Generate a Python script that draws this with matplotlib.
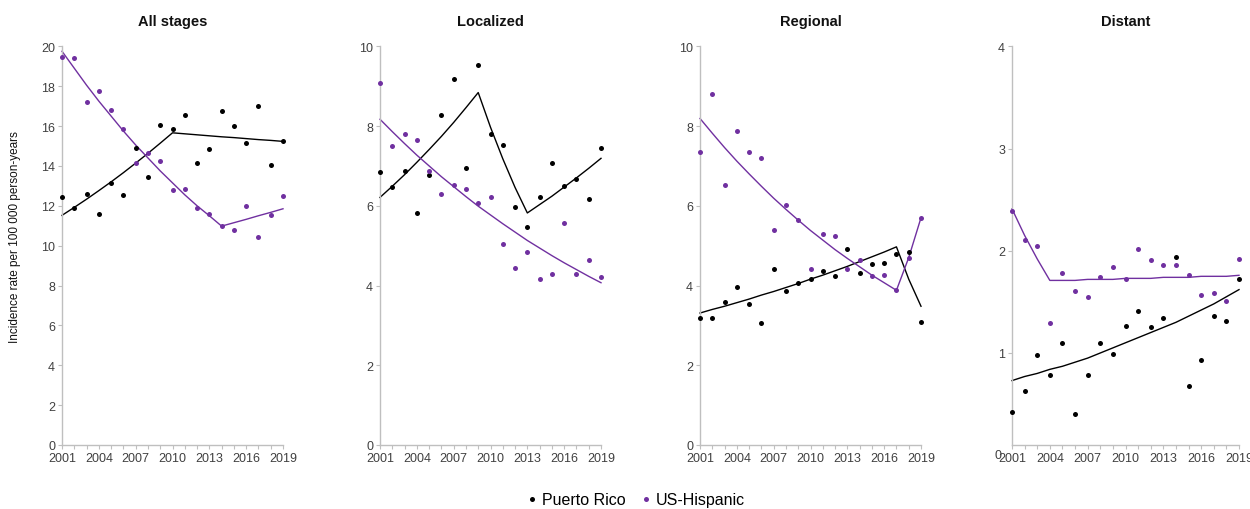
import matplotlib
matplotlib.use("Agg")
import matplotlib.pyplot as plt
from matplotlib.lines import Line2D

plt.rcParams["font.family"] = ["Liberation Sans", "DejaVu Sans"]

years = list(range(2001, 2020))

# All stages
all_pr = [12.44, 11.90, 12.57, 11.60, 13.14, 12.55, 14.91, 13.44, 16.04, 15.83,
          16.53, 14.17, 14.87, 16.73, 15.98, 15.14, 17.03, 14.07, 15.26]
all_hisp = [19.45, 19.42, 17.23, 17.76, 16.78, 15.84, 14.16, 14.66, 14.24, 12.80,
            12.82, 11.87, 11.57, 11.00, 10.78, 11.99, 10.45, 11.55, 12.50]
all_pr_fit = [11.52, 11.92, 12.33, 12.76, 13.20, 13.66, 14.14, 14.63, 15.14, 15.66,
              15.61, 15.56, 15.51, 15.46, 15.42, 15.37, 15.32, 15.28, 15.23]
all_hisp_fit = [19.75, 18.90, 18.05, 17.25, 16.50, 15.75, 15.05, 14.40, 13.75, 13.15,
                12.55, 12.00, 11.50, 10.98, 11.15, 11.32, 11.50, 11.67, 11.85]

# Localized
loc_pr = [6.84, 6.46, 6.87, 5.82, 6.78, 8.28, 9.19, 6.96, 9.53, 7.79,
          7.53, 5.96, 5.48, 6.21, 7.07, 6.50, 6.67, 6.18, 7.45]
loc_hisp = [9.09, 7.49, 7.79, 7.64, 6.87, 6.29, 6.52, 6.41, 6.07, 6.22,
            5.03, 4.44, 4.85, 4.17, 4.29, 5.58, 4.30, 4.63, 4.21]
loc_pr_fit = [6.21, 6.49, 6.78, 7.09, 7.41, 7.74, 8.09, 8.46, 8.84, 7.97,
              7.18, 6.46, 5.82, 6.03, 6.24, 6.47, 6.70, 6.94, 7.19]
loc_hisp_fit = [8.17, 7.86, 7.56, 7.27, 7.00, 6.73, 6.48, 6.23, 5.99, 5.77,
                5.55, 5.34, 5.13, 4.94, 4.75, 4.57, 4.40, 4.23, 4.07]

# Regional
reg_pr = [3.18, 3.18, 3.59, 3.96, 3.54, 3.06, 4.42, 3.87, 4.07, 4.17,
          4.36, 4.25, 4.92, 4.31, 4.54, 4.56, 4.79, 4.83, 3.09]
reg_hisp = [7.36, 8.80, 6.52, 7.88, 7.36, 7.20, 5.38, 6.03, 5.64, 4.41,
            5.28, 5.24, 4.41, 4.65, 4.23, 4.26, 3.88, 4.69, 5.70]
reg_pr_fit = [3.31, 3.40, 3.48, 3.57, 3.66, 3.76, 3.85, 3.95, 4.05, 4.16,
              4.26, 4.37, 4.48, 4.60, 4.72, 4.84, 4.97, 4.16, 3.48]
reg_hisp_fit = [8.19, 7.82, 7.46, 7.12, 6.80, 6.49, 6.19, 5.91, 5.64, 5.38,
                5.14, 4.90, 4.68, 4.47, 4.26, 4.07, 3.88, 4.70, 5.70]

# Distant
dist_pr = [0.42, 0.63, 0.98, 0.78, 1.10, 0.40, 0.78, 1.10, 0.99, 1.26,
           1.41, 1.25, 1.34, 1.94, 0.68, 0.93, 1.36, 1.31, 1.72]
dist_hisp = [2.39, 2.11, 2.05, 1.29, 1.78, 1.61, 1.55, 1.74, 1.84, 1.72,
             2.02, 1.91, 1.86, 1.86, 1.76, 1.57, 1.59, 1.51, 1.92]
dist_pr_fit = [0.73, 0.77, 0.80, 0.84, 0.87, 0.91, 0.95, 1.00, 1.05, 1.10,
               1.15, 1.20, 1.25, 1.30, 1.36, 1.42, 1.48, 1.55, 1.62]
dist_hisp_fit = [2.41, 2.15, 1.92, 1.71, 1.71, 1.71, 1.72, 1.72, 1.72, 1.73,
                 1.73, 1.73, 1.74, 1.74, 1.74, 1.75, 1.75, 1.75, 1.76]

titles = ["All stages", "Localized", "Regional", "Distant"]
panels = [
    (all_pr, all_hisp, all_pr_fit, all_hisp_fit, 20, 2),
    (loc_pr, loc_hisp, loc_pr_fit, loc_hisp_fit, 10, 2),
    (reg_pr, reg_hisp, reg_pr_fit, reg_hisp_fit, 10, 2),
    (dist_pr, dist_hisp, dist_pr_fit, dist_hisp_fit, 4, 1),
]

PURPLE = "#7030A0"
BLACK = "#000000"
GRID = "#BFBFBF"
TXT = "#404040"

fig = plt.figure(figsize=(12.5, 5.1), dpi=100)

lefts = [62, 380, 700, 1012]
widths = [221, 221, 221, 227]
bottom = 1 - 446 / 510
height = (446 - 47.3) / 510

for i, (pr, hisp, pr_fit, hisp_fit, ymax, ystep) in enumerate(panels):
    ax = fig.add_axes([lefts[i] / 1250, bottom, widths[i] / 1250, height])
    ax.plot(years, pr_fit, color=BLACK, lw=1.0, clip_on=False, zorder=2)
    ax.plot(years, hisp_fit, color=PURPLE, lw=1.0, clip_on=False, zorder=2)
    ax.plot(years, pr, "o", color=BLACK, ms=3.6, mew=0, clip_on=False, zorder=3)
    ax.plot(years, hisp, "o", color=PURPLE, ms=3.6, mew=0, clip_on=False, zorder=3)

    ax.set_xlim(2001, 2019)
    ax.set_xticks(years)
    ax.set_xticklabels([str(y) if (y - 2001) % 3 == 0 else "" for y in years])
    yt = list(range(0, ymax + 1, ystep))
    if i == 3:
        # Excel lets the x axis cross slightly above zero here
        ax.set_ylim(0.1, ymax)
        ax.set_yticks(yt[1:])
        ax.text(-0.045, 0, "0", transform=ax.get_yaxis_transform(),
                ha="right", va="center", fontsize=9, color=TXT, clip_on=False)
    else:
        ax.set_ylim(0, ymax)
        ax.set_yticks(yt)

    for s in ("top", "right"):
        ax.spines[s].set_visible(False)
    for s in ("left", "bottom"):
        ax.spines[s].set_color(GRID)
        ax.spines[s].set_linewidth(1.0)
    ax.tick_params(axis="both", colors=GRID, labelcolor=TXT, labelsize=9,
                   length=3, width=0.8, pad=2)
    ax.set_title(titles[i], fontsize=10.5, fontweight="bold", pad=15, color="#111111")
    if i == 0:
        ax.set_ylabel("Incidence rate per 100 000 person-years", fontsize=8.5,
                      color="#111111")
        ax.yaxis.set_label_coords(-0.185, 0.524)

handles = [
    Line2D([], [], ls="none", marker="o", ms=3.6, mew=0, color=BLACK),
    Line2D([], [], ls="none", marker="o", ms=3.6, mew=0, color=PURPLE),
]
fig.legend(handles, ["Puerto Rico", "US-Hispanic"], loc="center",
           bbox_to_anchor=(0.509, 1 - 501 / 510), ncol=2, frameon=False,
           fontsize=11.5, handlelength=0.6, handletextpad=0.3, columnspacing=1.0)

fig.savefig("out.png", dpi=100)
